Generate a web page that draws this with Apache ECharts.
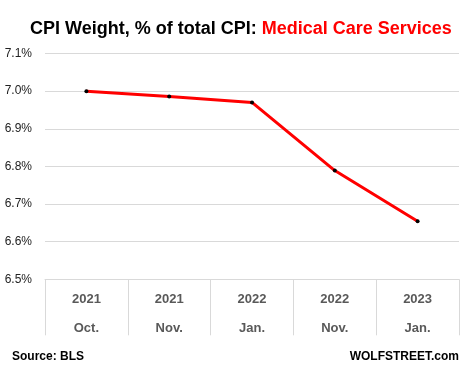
<!DOCTYPE html>
<html><head><meta charset="utf-8">
<script src="https://cdn.jsdelivr.net/npm/echarts@6/dist/echarts.min.js"></script>
<style>html,body{margin:0;padding:0;background:#fff}#c{width:464px;height:372px}</style>
</head><body><div id="c"></div>
<script>
const years = ['2021','2021','2022','2022','2023'];
const months = ['Oct.','Nov.','Jan.','Nov.','Jan.'];
const weights = [7.00, 6.986, 6.970, 6.789, 6.654];
const yTicks = [6.5, 6.6, 6.7, 6.8, 6.9, 7.0, 7.1];

const cats = years.map((y,i)=>y+'|'+months[i]);
const chart = echarts.init(document.getElementById('c'));
chart.setOption({
  animation:false,
  title:{
    left:25, top:15,
    text:'{a|CPI Weight, % of total CPI: }{b|Medical Care Services}',
    textStyle:{rich:{
      a:{fontFamily:'Liberation Sans',fontWeight:'bold',fontSize:18,color:'#000'},
      b:{fontFamily:'Liberation Sans',fontWeight:'bold',fontSize:18,color:'#ff0000'}
    }}
  },
  graphic:[
    {type:'text',left:12,top:351,style:{text:'Source: BLS',font:'bold 12px Liberation Sans',fill:'#000'}},
    {type:'text',right:5,top:351,style:{text:'WOLFSTREET.com',font:'bold 12px Liberation Sans',fill:'#000'}}
  ],
  grid:{left:45,right:5,top:53.5,bottom:92.7},
  xAxis:{
    type:'category', data:cats, boundaryGap:true,
    axisLine:{lineStyle:{color:'#d9d9d9',width:1}},
    axisTick:{show:true,length:56,lineStyle:{color:'#d9d9d9'}},
    axisLabel:{
      margin:6,
      formatter:v=>{const p=v.split('|');return '{y|'+p[0]+'}\n{m|'+p[1]+'}';},
      rich:{
        y:{fontFamily:'Liberation Sans',fontWeight:'bold',fontSize:13,color:'#595959',lineHeight:29},
        m:{fontFamily:'Liberation Sans',fontWeight:'bold',fontSize:13,color:'#595959',lineHeight:29}
      }
    }
  },
  yAxis:{
    type:'value', min:yTicks[0], max:yTicks[yTicks.length-1], interval:0.1,
    axisLine:{show:false}, axisTick:{show:false},
    splitLine:{lineStyle:{color:'#d9d9d9',width:1}},
    axisLabel:{margin:13,color:'#222',fontFamily:'Liberation Sans',fontSize:12,
      formatter:v=>v.toFixed(1)+'%'}
  },
  series:[{
    type:'line', data:weights,
    lineStyle:{color:'#ff0000',width:3},
    symbol:'circle', symbolSize:4,
    itemStyle:{color:'#000',borderWidth:0},
    z:3
  }]
});
</script></body></html>
